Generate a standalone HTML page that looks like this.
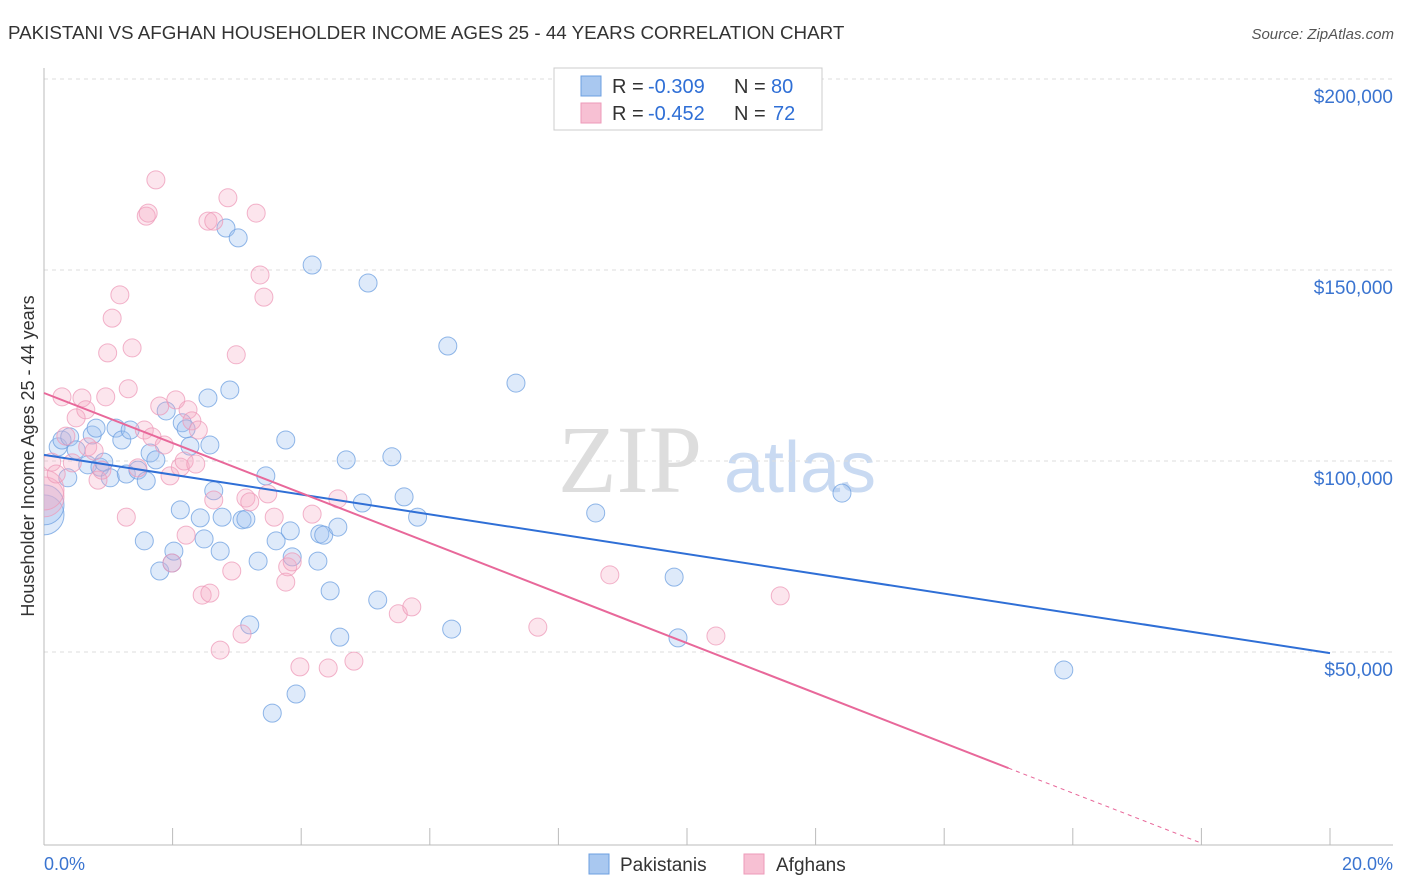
<!DOCTYPE html>
<html><head><meta charset="utf-8"><style>
body{margin:0;background:#fff;font-family:"Liberation Sans",sans-serif}
svg{display:block}
</style></head><body>
<svg id="c" width="1406" height="892" xmlns="http://www.w3.org/2000/svg">
<defs><clipPath id="plot"><rect x="44" y="60" width="1360" height="785"/></clipPath></defs>
<text x="8" y="39" font-size="18.8" fill="#333">PAKISTANI VS AFGHAN HOUSEHOLDER INCOME AGES 25 - 44 YEARS CORRELATION CHART</text>
<text x="1394" y="39" font-size="15" fill="#555" font-style="italic" text-anchor="end">Source: ZipAtlas.com</text>
<text x="630" y="492" font-size="96" fill="#ddd" font-family="Liberation Serif" text-anchor="middle">ZIP</text>
<text x="800" y="492" font-size="72" fill="#c9daf2" text-anchor="middle">atlas</text>
<text transform="translate(34,456) rotate(-90)" font-size="18" fill="#333" text-anchor="middle">Householder Income Ages 25 - 44 years</text>
<g id="grid"></g><g id="pts" clip-path="url(#plot)"></g><g id="lines"></g>
<g>
<rect x="554" y="68" width="268" height="62" fill="#fff" stroke="#ccc"/>
<rect x="581" y="76" width="20" height="20" fill="#a9c8f0" stroke="#6c9fe0"/>
<rect x="581" y="103" width="20" height="20" fill="#f7c0d3" stroke="#ee9ab8"/>
<text x="612" y="93" font-size="20" fill="#333">R =</text>
<text x="648" y="93" font-size="20" fill="#2f6fd6">-0.309</text>
<text x="734" y="93" font-size="20" fill="#333">N =</text>
<text x="771" y="93" font-size="20" fill="#2f6fd6">80</text>
<text x="612" y="120" font-size="20" fill="#333">R =</text>
<text x="648" y="120" font-size="20" fill="#2f6fd6">-0.452</text>
<text x="734" y="120" font-size="20" fill="#333">N =</text>
<text x="773" y="120" font-size="20" fill="#2f6fd6">72</text>
</g>
<g>
<rect x="589" y="854" width="20" height="20" fill="#a9c8f0" stroke="#6c9fe0"/>
<text x="620" y="871" font-size="19" fill="#333">Pakistanis</text>
<rect x="744" y="854" width="20" height="20" fill="#f7c0d3" stroke="#ee9ab8"/>
<text x="776" y="871" font-size="19" fill="#333">Afghans</text>
</g>
<text x="44" y="870" font-size="18" fill="#3a74d0">0.0%</text>
<text x="1393" y="870" font-size="18" fill="#3a74d0" text-anchor="end">20.0%</text>
</svg>
<script>
const yTicks=[50000,100000,150000,200000];
const yTickLabels=["$50,000","$100,000","$150,000","$200,000"];
const xTicks=[0,2,4,6,8,10,12,14,16,18,20];
const blueX=[0,0,.22,.28,.37,.40,.50,.68,.75,.81,.87,.93,1.03,1.12,1.21,1.28,1.34,1.46,1.59,1.56,1.65,1.74,1.80,1.90,1.99,2.02,2.12,2.15,2.21,2.27,2.43,2.49,2.55,2.58,2.64,2.74,2.77,2.83,2.89,3.02,3.08,3.14,3.20,3.33,3.45,3.55,3.61,3.76,3.83,3.86,3.92,4.17,4.26,4.29,4.35,4.45,4.57,4.60,4.70,4.95,5.04,5.19,5.41,5.60,5.81,6.28,6.34,7.34,8.58,9.80,9.86,12.41,15.86];
const blueY=[85.9,88.5,103.7,105.5,95.6,106.3,102.9,99.0,106.8,108.6,98.4,99.7,95.6,108.6,105.5,96.6,108.1,97.6,94.8,79.1,102.1,100.3,71.2,113.1,73.3,76.4,87.2,110.0,108.4,103.9,85.1,79.6,116.5,104.2,92.2,76.4,85.3,161.0,118.6,158.4,84.6,84.8,57.1,73.8,96.1,34.0,79.1,105.5,81.7,74.9,39.0,151.3,73.8,80.9,80.6,66.0,82.7,53.9,100.3,89.0,146.6,63.6,101.1,90.6,85.3,130.1,56.0,120.4,86.4,69.6,53.7,91.6,45.3];
const pinkX=[0,0,.12,.19,.28,.34,.44,.50,.59,.65,.68,.78,.84,.90,.96,.99,1.06,1.18,1.28,1.31,1.37,1.46,1.56,1.59,1.62,1.68,1.74,1.80,1.87,1.96,1.99,2.05,2.12,2.18,2.21,2.24,2.30,2.36,2.40,2.46,2.55,2.58,2.64,2.64,2.74,2.86,2.92,2.99,3.08,3.14,3.20,3.30,3.36,3.42,3.48,3.58,3.76,3.79,3.86,3.98,4.17,4.42,4.57,4.82,5.51,5.72,7.68,8.80,10.45,11.45];
const pinkY=[90.6,92.4,99.7,96.6,116.8,106.5,99.5,111.3,116.5,113.4,103.7,102.6,95.0,97.6,116.8,128.3,137.4,143.5,85.3,118.9,129.6,98.2,108.1,164.1,164.9,106.3,173.6,114.4,104.2,96.1,73.3,116.0,98.4,100.0,80.6,113.4,110.5,99.2,108.1,64.9,162.8,65.4,162.8,89.8,50.5,168.9,71.2,127.8,54.7,90.3,89.3,164.9,148.7,142.9,91.4,85.3,68.3,72.3,73.6,46.1,86.1,45.8,90.1,47.6,60.0,61.8,56.5,70.2,54.2,64.7];
const blueTrend=[101.6,49.7];
const pinkTrend=[117.8,19.6];
const NS='http://www.w3.org/2000/svg';
const X=p=>44+p*64.3;
const Y=v=>843-v*191/50000;
function mk(t,a,parent){const e=document.createElementNS(NS,t);for(const k in a)e.setAttribute(k,a[k]);document.getElementById(parent).appendChild(e);return e;}
yTicks.forEach((v,i)=>{
 const l=mk('line',{x1:44,x2:1393,y1:Y(v),y2:Y(v),stroke:'#ddd','stroke-dasharray':'4,4'},'grid');
 
 
 const t=mk('text',{x:1393,y:Y(v)+24,'font-size':19,fill:'#3a74d0','text-anchor':'end'},'grid');
 t.textContent=yTickLabels[i];
 
 
});
const ax=mk('line',{x1:44,x2:1393,y1:845,y2:845,stroke:'#bbb'},'grid');


const ay=mk('line',{x1:44,x2:44,y1:68,y2:845,stroke:'#bbb'},'grid');


xTicks.forEach(p=>{
 const t=mk('line',{x1:X(p),x2:X(p),y1:828,y2:845,stroke:'#bbb'},'grid');
 
 
});
function pts(xs,ys,fill,stroke,name){
 xs.forEach((p,i)=>{
  const r=i<2?20:9;
  const c=mk('circle',{cx:X(p),cy:Y(ys[i]*1000),r:r,fill:fill,stroke:stroke,'stroke-width':1,'stroke-opacity':0.75},'pts');
  
  
 });
}
pts(blueX,blueY,'rgba(160,196,240,0.35)','#6c9fe0','pakistani-point');
pts(pinkX,pinkY,'rgba(245,170,195,0.3)','#ee9ab8','afghan-point');
const bl=mk('line',{x1:X(0),y1:Y(blueTrend[0]*1000),x2:X(20),y2:Y(blueTrend[1]*1000),stroke:'#2f6fd6','stroke-width':2},'lines');


const sl=(pinkTrend[1]-pinkTrend[0])/15;
const pl=mk('line',{x1:X(0),y1:Y(pinkTrend[0]*1000),x2:X(15),y2:Y(pinkTrend[1]*1000),stroke:'#e8689a','stroke-width':2},'lines');


const xe=-pinkTrend[0]/sl;
const pd=mk('line',{x1:X(15),y1:Y(pinkTrend[1]*1000),x2:X(xe),y2:Y(0),stroke:'#e8689a','stroke-width':1,'stroke-dasharray':'4,4'},'lines');


</script>
</body></html>
